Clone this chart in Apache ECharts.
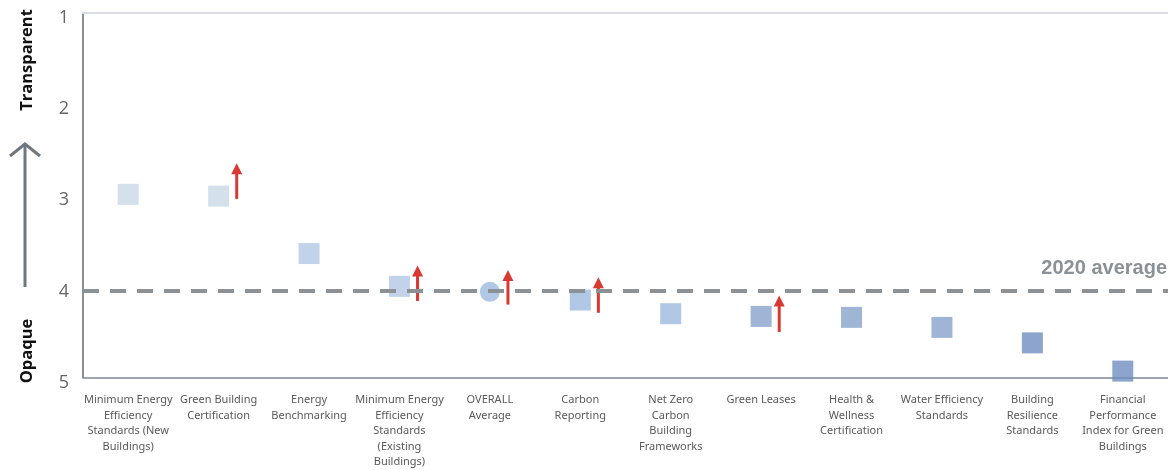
<!DOCTYPE html>
<html>
<head>
<meta charset="utf-8">
<script src="https://cdn.jsdelivr.net/npm/echarts@6/dist/echarts.min.js"></script>
<style>
  html, body { margin: 0; padding: 0; background: #fff; }
  #chart { width: 1168px; height: 470px; }
</style>
</head>
<body>
<div id="chart"></div>
<script>
// categories (wrapped as in the original)
const categories = [
  'Minimum Energy\nEfficiency\nStandards (New\nBuildings)',
  'Green Building\nCertification',
  'Energy\nBenchmarking',
  'Minimum Energy\nEfficiency\nStandards\n(Existing\nBuildings)',
  'OVERALL\nAverage',
  'Carbon\nReporting',
  'Net Zero\nCarbon\nBuilding\nFrameworks',
  'Green Leases',
  'Health &\nWellness\nCertification',
  'Water Efficiency\nStandards',
  'Building\nResilience\nStandards',
  'Financial\nPerformance\nIndex for Green\nBuildings'
]
// score per category (1 = transparent, 5 = opaque)
const scores = [2.99, 3.01, 3.64, 4.00, 4.06, 4.15, 4.30, 4.33, 4.34, 4.45, 4.62, 4.93]
const overallIndex = 4
const average2020 = 4.05
const yTicks = [1, 2, 3, 4, 5]

// red improvement arrows: category index, from, to
const arrowCats = [1, 3, 4, 5, 7]
const arrowFrom = [3.04, 4.16, 4.20, 4.29, 4.50]
const arrowTo = [2.65, 3.77, 3.82, 3.90, 4.10]

// shades per category
const shades = ['#c9d8e6', '#c9d8e6', '#b0c8e6', '#b0c8e6', '#9cb9e0', '#9cb9e0',
  '#9cb9e0', '#86a3cc', '#86a3cc', '#86a3cc', '#718fbf', '#718fbf']

const chart = echarts.init(document.getElementById('chart'))

const pointData = scores.map((v, i) => ({
  value: v,
  symbol: i === overallIndex ? 'circle' : 'rect',
  symbolSize: i === overallIndex ? 20 : 21,
  itemStyle: { color: shades[i] }
}))

const arrowData = arrowCats.map((c, i) => [c, arrowFrom[i], arrowTo[i]])

function renderArrow(params, api) {
  const a = api.coord([api.value(0), api.value(1)])
  const b = api.coord([api.value(0), api.value(2)])
  const dx = api.size([1, 0])[0] * 0.2
  const x = a[0] + dx
  const col = '#d93833'
  return {
    type: 'group',
    children: [
      { type: 'line', shape: { x1: x, y1: a[1], x2: x, y2: b[1] + 8 },
        style: { stroke: col, lineWidth: 3 } },
      { type: 'polygon', shape: { points: [[x - 5.5, b[1] + 11], [x, b[1]], [x + 5.5, b[1] + 11]] },
        style: { fill: col } }
    ]
  }
}

const option = {
  animation: false,
  grid: { left: 83, right: 0, top: 13, bottom: 92 },
  xAxis: [{
    type: 'category',
    data: categories,
    axisLine: { lineStyle: { color: '#7d8791', width: 1.5 } },
    axisTick: { show: false },
    axisLabel: {
      interval: 0,
      margin: 15,
      fontFamily: 'Noto Sans',
      fontSize: 11,
      lineHeight: 15.5,
      color: '#595959'
    }
  }, {
    type: 'category',
    position: 'top',
    data: categories,
    axisLine: { lineStyle: { color: '#dcdde3', width: 2 } },
    axisTick: { show: false },
    axisLabel: { show: false }
  }],
  yAxis: {
    type: 'value',
    inverse: true,
    min: yTicks[0],
    max: yTicks[yTicks.length - 1],
    interval: 1,
    axisLine: { show: true, onZero: false, lineStyle: { color: '#5f6b76', width: 1.5 } },
    axisTick: { show: false },
    splitLine: { show: false },
    axisLabel: {
      margin: 14,
      fontFamily: 'Open Sans',
      fontSize: 18,
      color: '#666',
      verticalAlign: 'top',
      lineHeight: 10
    }
  },
  series: [{
    type: 'scatter',
    data: pointData,
    z: 3,
    markLine: {
      silent: true,
      symbol: 'none',
      lineStyle: { color: '#8c9196', width: 4, type: [16, 11] },
      label: {
        position: 'insideEndTop',
        formatter: '2020 average',
        fontFamily: 'Liberation Sans',
        fontWeight: 'bold',
        fontSize: 20,
        color: '#8c9196',
        distance: [1, 12]
      },
      data: [{ yAxis: average2020 }]
    }
  }, {
    type: 'custom',
    renderItem: renderArrow,
    data: arrowData,
    encode: { x: 0, y: [1, 2] },
    z: 4
  }],
  graphic: [
    { type: 'text', x: 27, y: 60, rotation: Math.PI / 2,
      style: { text: 'Transparent', font: 'bold 16.5px "Open Sans"', fill: '#111', align: 'center', verticalAlign: 'middle' } },
    { type: 'text', x: 27, y: 351, rotation: Math.PI / 2,
      style: { text: 'Opaque', font: 'bold 16.5px "Open Sans"', fill: '#111', align: 'center', verticalAlign: 'middle' } },
    { type: 'polyline', shape: { points: [[25, 287], [25, 145]] },
      style: { stroke: '#6e7880', lineWidth: 3 } },
    { type: 'polyline', shape: { points: [[10, 156], [25, 144], [40, 156]] },
      style: { stroke: '#6e7880', lineWidth: 3, fill: null } }
  ]
}

chart.setOption(option)
</script>
</body>
</html>
